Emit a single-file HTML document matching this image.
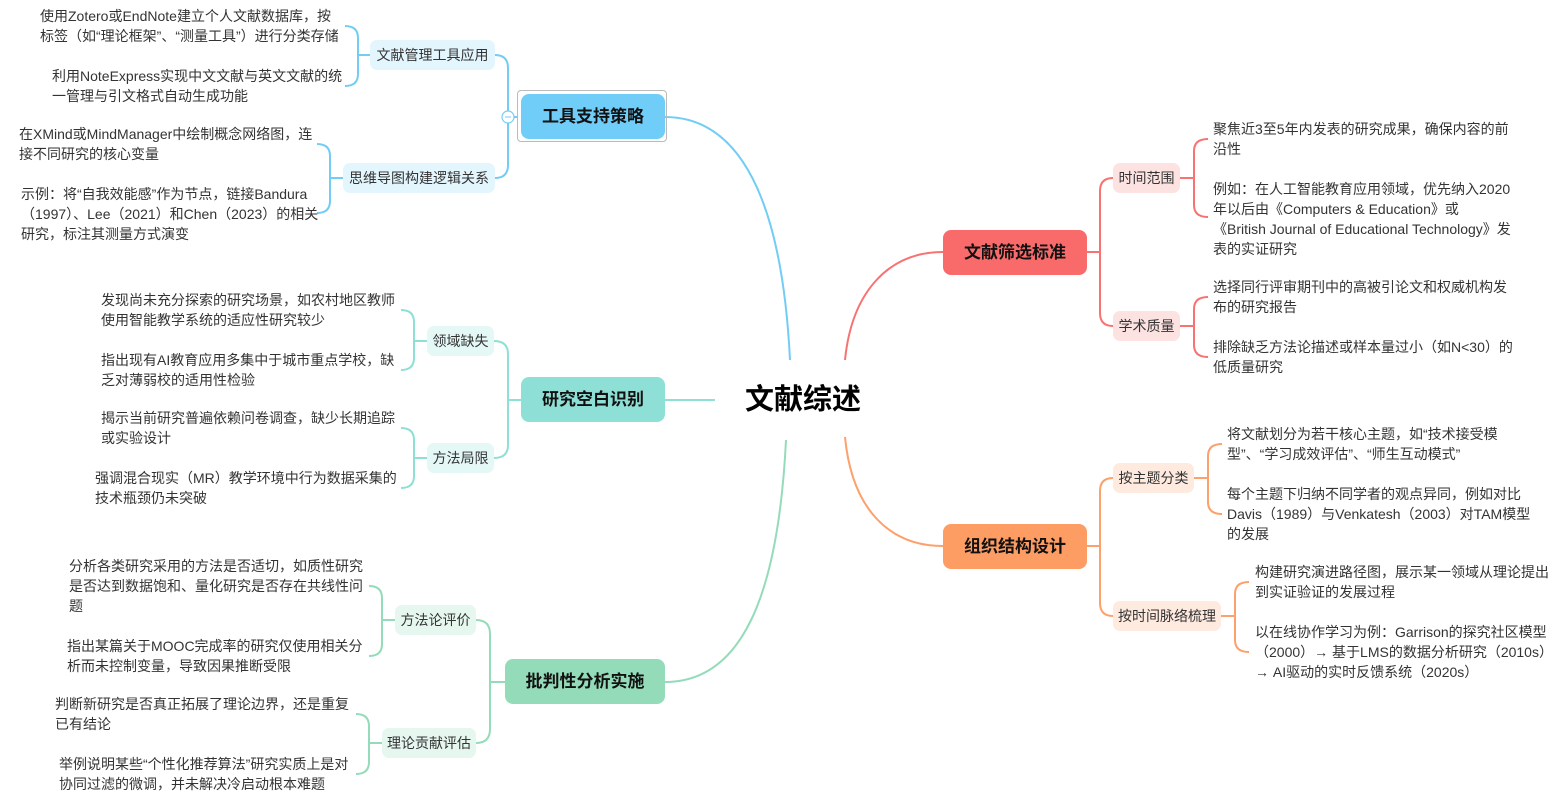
<!DOCTYPE html>
<html><head><meta charset="utf-8"><style>
body{margin:0;width:1553px;height:790px;background:#fff;position:relative;overflow:hidden;font-family:"Liberation Sans","Noto Sans CJK SC",sans-serif;}
.t{position:absolute;font-size:14px;line-height:20px;color:#333;white-space:nowrap;}
.s{position:absolute;height:30px;line-height:30px;font-size:14px;color:#333;border-radius:7px;text-align:center;white-space:nowrap;}
.m{position:absolute;height:45px;line-height:45px;font-size:17px;font-weight:bold;color:#111;border-radius:8px;text-align:center;}
svg{position:absolute;left:0;top:0;}
</style></head><body>
<svg width="1553" height="790" fill="none" stroke-width="2">
<g stroke="#72cdf5">
<path d="M665,117 C740,117 782,200 790,360"/>
<path d="M495,55 Q508,55 508,68 L508,165 Q508,178 495,178 M508,117 L517,117"/>
<path d="M370,55 L358,55 M345,26 Q358,26 358,38 L358,74 Q358,86 345,86"/>
<path d="M343,178 L330,178 M317,144 Q330,144 330,156 L330,201 Q330,213 317,213"/>
<circle cx="508" cy="117" r="6" fill="#fff" stroke-width="1.2"/>
<path d="M505,117 L511,117" stroke-width="1"/>
</g>
<g stroke="#8ee0d6">
<path d="M715,400 L665,400"/>
<path d="M521,400 L508,400 M494,341 Q508,341 508,354 L508,445 Q508,458 494,458"/>
<path d="M427,341 L414,341 M401,310 Q414,310 414,322 L414,358 Q414,370 401,370"/>
<path d="M427,458 L414,458 M401,428 Q414,428 414,440 L414,476 Q414,488 401,488"/>
</g>
<g stroke="#94dcb9">
<path d="M665,682 C740,682 778,600 786,440"/>
<path d="M505,682 L490,682 M476,620 Q490,620 490,634 L490,729 Q490,743 476,743"/>
<path d="M395,620 L382,620 M369,586 Q382,586 382,598 L382,644 Q382,656 369,656"/>
<path d="M382,743 L369,743 M356,714 Q369,714 369,726 L369,762 Q369,774 356,774"/>
</g>
<g stroke="#f87272">
<path d="M845,360 C852,290 890,252 943,252"/>
<path d="M1087,252 L1100,252 M1113,178 Q1100,178 1100,191 L1100,313 Q1100,326 1113,326"/>
<path d="M1180,178 L1194,178 M1208,139 Q1194,139 1194,151 L1194,205 Q1194,217 1208,217"/>
<path d="M1180,326 L1194,326 M1208,297 Q1194,297 1194,309 L1194,345 Q1194,357 1208,357"/>
</g>
<g stroke="#fda06c">
<path d="M845,437 C852,510 890,546 943,546"/>
<path d="M1087,546 L1100,546 M1113,478 Q1100,478 1100,491 L1100,603 Q1100,616 1113,616"/>
<path d="M1194,478 L1208,478 M1222,444 Q1208,444 1208,456 L1208,502 Q1208,514 1222,514"/>
<path d="M1221,616 L1235,616 M1249,582 Q1235,582 1235,594 L1235,640 Q1235,652 1249,652"/>
</g>
</svg>

<div style="position:absolute;left:745px;top:380px;font-size:29px;font-weight:bold;color:#000;line-height:40px;">文献综述</div>

<div style="position:absolute;left:517px;top:90px;width:148px;height:50px;border:1px solid #bbb;border-radius:4px;"></div>
<div class="m" style="left:521px;top:94px;width:144px;background:#70cdf8;">工具支持策略</div>
<div class="m" style="left:521px;top:377px;width:144px;background:#8ee0d6;">研究空白识别</div>
<div class="m" style="left:505px;top:659px;width:160px;background:#94dcb9;">批判性分析实施</div>
<div class="m" style="left:943px;top:230px;width:144px;background:#f96b6b;">文献筛选标准</div>
<div class="m" style="left:943px;top:524px;width:144px;background:#fd9d64;">组织结构设计</div>

<div class="s" style="left:370px;top:40px;width:125px;background:#e3f5fd;">文献管理工具应用</div>
<div class="s" style="left:343px;top:163px;width:152px;background:#e3f5fd;">思维导图构建逻辑关系</div>
<div class="s" style="left:427px;top:326px;width:67px;background:#e4f8f6;">领域缺失</div>
<div class="s" style="left:427px;top:443px;width:67px;background:#e4f8f6;">方法局限</div>
<div class="s" style="left:395px;top:605px;width:81px;background:#e6f7ef;">方法论评价</div>
<div class="s" style="left:382px;top:728px;width:94px;background:#e6f7ef;">理论贡献评估</div>
<div class="s" style="left:1113px;top:163px;width:67px;background:#fde2e2;">时间范围</div>
<div class="s" style="left:1113px;top:311px;width:67px;background:#fde2e2;">学术质量</div>
<div class="s" style="left:1113px;top:463px;width:81px;background:#feeadf;">按主题分类</div>
<div class="s" style="left:1113px;top:601px;width:108px;background:#feeadf;">按时间脉络梳理</div>

<div class="t" style="left:40px;top:6px;">使用Zotero或EndNote建立个人文献数据库，按<br>标签（如“理论框架”、“测量工具”）进行分类存储</div>
<div class="t" style="left:52px;top:66px;">利用NoteExpress实现中文文献与英文文献的统<br>一管理与引文格式自动生成功能</div>
<div class="t" style="left:19px;top:124px;">在XMind或MindManager中绘制概念网络图，连<br>接不同研究的核心变量</div>
<div class="t" style="left:21px;top:184px;">示例：将“自我效能感”作为节点，链接Bandura<br>（1997）、Lee（2021）和Chen（2023）的相关<br>研究，标注其测量方式演变</div>

<div class="t" style="left:101px;top:290px;">发现尚未充分探索的研究场景，如农村地区教师<br>使用智能教学系统的适应性研究较少</div>
<div class="t" style="left:101px;top:350px;">指出现有AI教育应用多集中于城市重点学校，缺<br>乏对薄弱校的适用性检验</div>
<div class="t" style="left:101px;top:408px;">揭示当前研究普遍依赖问卷调查，缺少长期追踪<br>或实验设计</div>
<div class="t" style="left:95px;top:468px;">强调混合现实（MR）教学环境中行为数据采集的<br>技术瓶颈仍未突破</div>

<div class="t" style="left:69px;top:556px;">分析各类研究采用的方法是否适切，如质性研究<br>是否达到数据饱和、量化研究是否存在共线性问<br>题</div>
<div class="t" style="left:67px;top:636px;">指出某篇关于MOOC完成率的研究仅使用相关分<br>析而未控制变量，导致因果推断受限</div>
<div class="t" style="left:55px;top:694px;">判断新研究是否真正拓展了理论边界，还是重复<br>已有结论</div>
<div class="t" style="left:59px;top:754px;">举例说明某些“个性化推荐算法”研究实质上是对<br>协同过滤的微调，并未解决冷启动根本难题</div>

<div class="t" style="left:1213px;top:119px;">聚焦近3至5年内发表的研究成果，确保内容的前<br>沿性</div>
<div class="t" style="left:1213px;top:179px;">例如：在人工智能教育应用领域，优先纳入2020<br>年以后由《Computers &amp; Education》或<br>《British Journal of Educational Technology》发<br>表的实证研究</div>
<div class="t" style="left:1213px;top:277px;">选择同行评审期刊中的高被引论文和权威机构发<br>布的研究报告</div>
<div class="t" style="left:1213px;top:337px;">排除缺乏方法论描述或样本量过小（如N&lt;30）的<br>低质量研究</div>
<div class="t" style="left:1227px;top:424px;">将文献划分为若干核心主题，如“技术接受模<br>型”、“学习成效评估”、“师生互动模式”</div>
<div class="t" style="left:1227px;top:484px;">每个主题下归纳不同学者的观点异同，例如对比<br>Davis（1989）与Venkatesh（2003）对TAM模型<br>的发展</div>
<div class="t" style="left:1255px;top:562px;">构建研究演进路径图，展示某一领域从理论提出<br>到实证验证的发展过程</div>
<div class="t" style="left:1255px;top:622px;">以在线协作学习为例：Garrison的探究社区模型<br>（2000）→ 基于LMS的数据分析研究（2010s）<br>→ AI驱动的实时反馈系统（2020s）</div>
</body></html>
